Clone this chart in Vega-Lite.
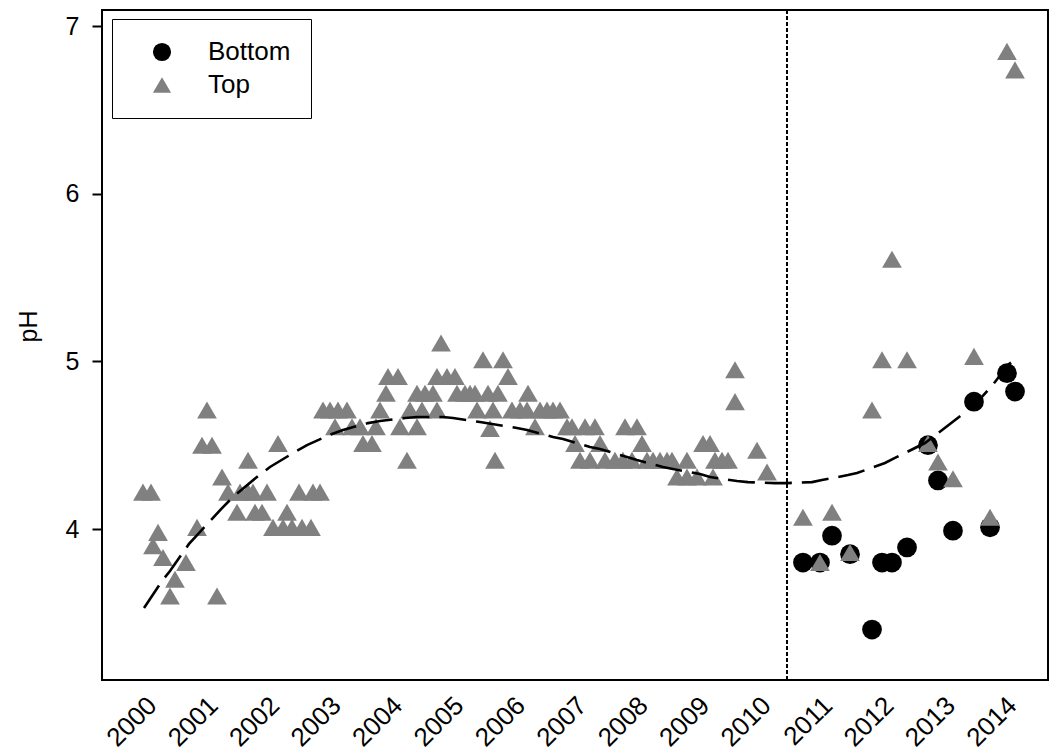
{
  "$schema": "https://vega.github.io/schema/vega-lite/v6.json",
  "width": 946,
  "height": 670,
  "autosize": {"type": "none"},
  "padding": {"left": 102, "top": 10, "right": 3, "bottom": 76},
  "background": "white",
  "config": {
    "font": "Liberation Sans",
    "view": {"stroke": "black", "strokeWidth": 2},
    "axis": {"grid": false, "domain": false, "labelColor": "black", "titleColor": "black", "labelFont": "Liberation Sans", "titleFont": "Liberation Sans"}
  },
  "datasets": {
    "pts": [
      {"t":2010.597,"pH":3.80,"pos":"Bottom"},{"t":2010.874,"pH":3.80,"pos":"Bottom"},{"t":2011.070,"pH":3.96,"pos":"Bottom"},{"t":2011.363,"pH":3.85,"pos":"Bottom"},{"t":2011.884,"pH":3.80,"pos":"Bottom"},{"t":2012.046,"pH":3.80,"pos":"Bottom"},{"t":2012.291,"pH":3.89,"pos":"Bottom"},{"t":2011.721,"pH":3.40,"pos":"Bottom"},{"t":2012.632,"pH":4.50,"pos":"Bottom"},{"t":2012.795,"pH":4.29,"pos":"Bottom"},{"t":2013.039,"pH":3.99,"pos":"Bottom"},{"t":2013.642,"pH":4.01,"pos":"Bottom"},{"t":2013.381,"pH":4.76,"pos":"Bottom"},{"t":2013.918,"pH":4.93,"pos":"Bottom"},{"t":2014.049,"pH":4.82,"pos":"Bottom"},
      {"t":1999.853,"pH":4.22,"pos":"Top"},{"t":1999.984,"pH":4.22,"pos":"Top"},{"t":2000.098,"pH":3.98,"pos":"Top"},{"t":2000.016,"pH":3.90,"pos":"Top"},{"t":2000.179,"pH":3.83,"pos":"Top"},{"t":2000.553,"pH":3.80,"pos":"Top"},{"t":2000.374,"pH":3.70,"pos":"Top"},{"t":2000.293,"pH":3.60,"pos":"Top"},{"t":2001.058,"pH":3.60,"pos":"Top"},{"t":2000.733,"pH":4.01,"pos":"Top"},{"t":2000.895,"pH":4.71,"pos":"Top"},{"t":2000.814,"pH":4.50,"pos":"Top"},{"t":2000.977,"pH":4.50,"pos":"Top"},{"t":2002.051,"pH":4.51,"pos":"Top"},{"t":2001.563,"pH":4.41,"pos":"Top"},{"t":2001.140,"pH":4.31,"pos":"Top"},
      {"t":2001.237,"pH":4.22,"pos":"Top"},{"t":2001.433,"pH":4.22,"pos":"Top"},{"t":2001.563,"pH":4.22,"pos":"Top"},{"t":2001.644,"pH":4.22,"pos":"Top"},{"t":2001.872,"pH":4.22,"pos":"Top"},
      {"t":2001.384,"pH":4.10,"pos":"Top"},{"t":2001.677,"pH":4.10,"pos":"Top"},{"t":2001.791,"pH":4.10,"pos":"Top"},{"t":2002.198,"pH":4.10,"pos":"Top"},
      {"t":2001.970,"pH":4.01,"pos":"Top"},{"t":2002.133,"pH":4.01,"pos":"Top"},{"t":2002.279,"pH":4.01,"pos":"Top"},{"t":2002.442,"pH":4.01,"pos":"Top"},{"t":2002.588,"pH":4.01,"pos":"Top"},
      {"t":2002.393,"pH":4.22,"pos":"Top"},{"t":2002.621,"pH":4.22,"pos":"Top"},{"t":2002.735,"pH":4.22,"pos":"Top"},
      {"t":2004.705,"pH":5.11,"pos":"Top"},
      {"t":2003.842,"pH":4.91,"pos":"Top"},{"t":2004.005,"pH":4.91,"pos":"Top"},{"t":2004.639,"pH":4.91,"pos":"Top"},{"t":2004.802,"pH":4.91,"pos":"Top"},{"t":2004.932,"pH":4.91,"pos":"Top"},
      {"t":2003.809,"pH":4.81,"pos":"Top"},{"t":2004.314,"pH":4.81,"pos":"Top"},{"t":2004.444,"pH":4.81,"pos":"Top"},{"t":2004.574,"pH":4.81,"pos":"Top"},
      {"t":2002.784,"pH":4.71,"pos":"Top"},{"t":2002.898,"pH":4.71,"pos":"Top"},{"t":2003.028,"pH":4.71,"pos":"Top"},{"t":2003.174,"pH":4.71,"pos":"Top"},{"t":2003.712,"pH":4.71,"pos":"Top"},{"t":2004.200,"pH":4.71,"pos":"Top"},{"t":2004.395,"pH":4.71,"pos":"Top"},{"t":2004.639,"pH":4.71,"pos":"Top"},
      {"t":2002.979,"pH":4.61,"pos":"Top"},{"t":2003.256,"pH":4.61,"pos":"Top"},{"t":2003.386,"pH":4.61,"pos":"Top"},{"t":2003.646,"pH":4.61,"pos":"Top"},{"t":2004.037,"pH":4.61,"pos":"Top"},{"t":2004.314,"pH":4.61,"pos":"Top"},
      {"t":2003.435,"pH":4.51,"pos":"Top"},{"t":2003.581,"pH":4.51,"pos":"Top"},
      {"t":2004.151,"pH":4.41,"pos":"Top"},
      {"t":2005.388,"pH":5.01,"pos":"Top"},{"t":2005.714,"pH":5.01,"pos":"Top"},
      {"t":2005.795,"pH":4.91,"pos":"Top"},
      {"t":2004.965,"pH":4.81,"pos":"Top"},{"t":2005.095,"pH":4.81,"pos":"Top"},{"t":2005.177,"pH":4.81,"pos":"Top"},{"t":2005.258,"pH":4.81,"pos":"Top"},{"t":2005.470,"pH":4.81,"pos":"Top"},{"t":2005.632,"pH":4.81,"pos":"Top"},{"t":2006.121,"pH":4.81,"pos":"Top"},
      {"t":2005.291,"pH":4.71,"pos":"Top"},{"t":2005.551,"pH":4.71,"pos":"Top"},{"t":2005.860,"pH":4.71,"pos":"Top"},{"t":2005.991,"pH":4.71,"pos":"Top"},{"t":2006.105,"pH":4.71,"pos":"Top"},{"t":2006.316,"pH":4.71,"pos":"Top"},{"t":2006.430,"pH":4.71,"pos":"Top"},{"t":2006.528,"pH":4.71,"pos":"Top"},{"t":2006.642,"pH":4.71,"pos":"Top"},
      {"t":2005.502,"pH":4.60,"pos":"Top"},{"t":2006.235,"pH":4.61,"pos":"Top"},{"t":2006.756,"pH":4.61,"pos":"Top"},{"t":2006.837,"pH":4.61,"pos":"Top"},{"t":2007.049,"pH":4.61,"pos":"Top"},{"t":2007.211,"pH":4.61,"pos":"Top"},
      {"t":2006.886,"pH":4.51,"pos":"Top"},{"t":2007.293,"pH":4.51,"pos":"Top"},
      {"t":2005.584,"pH":4.41,"pos":"Top"},{"t":2006.967,"pH":4.41,"pos":"Top"},{"t":2007.130,"pH":4.41,"pos":"Top"},{"t":2007.374,"pH":4.41,"pos":"Top"},{"t":2007.537,"pH":4.41,"pos":"Top"},{"t":2007.667,"pH":4.41,"pos":"Top"},{"t":2007.814,"pH":4.41,"pos":"Top"},
      {"t":2009.491,"pH":4.95,"pos":"Top"},{"t":2009.491,"pH":4.76,"pos":"Top"},
      {"t":2007.700,"pH":4.61,"pos":"Top"},{"t":2007.895,"pH":4.61,"pos":"Top"},
      {"t":2007.977,"pH":4.51,"pos":"Top"},{"t":2008.970,"pH":4.51,"pos":"Top"},{"t":2009.084,"pH":4.51,"pos":"Top"},
      {"t":2009.849,"pH":4.47,"pos":"Top"},
      {"t":2008.058,"pH":4.41,"pos":"Top"},{"t":2008.156,"pH":4.41,"pos":"Top"},{"t":2008.270,"pH":4.41,"pos":"Top"},{"t":2008.384,"pH":4.41,"pos":"Top"},{"t":2008.465,"pH":4.41,"pos":"Top"},{"t":2008.709,"pH":4.41,"pos":"Top"},{"t":2009.165,"pH":4.41,"pos":"Top"},{"t":2009.279,"pH":4.41,"pos":"Top"},{"t":2009.377,"pH":4.41,"pos":"Top"},
      {"t":2008.546,"pH":4.31,"pos":"Top"},{"t":2008.709,"pH":4.31,"pos":"Top"},{"t":2008.872,"pH":4.31,"pos":"Top"},{"t":2009.133,"pH":4.31,"pos":"Top"},
      {"t":2010.012,"pH":4.34,"pos":"Top"},
      {"t":2012.046,"pH":5.61,"pos":"Top"},{"t":2011.884,"pH":5.01,"pos":"Top"},{"t":2012.291,"pH":5.01,"pos":"Top"},{"t":2013.381,"pH":5.03,"pos":"Top"},{"t":2011.721,"pH":4.71,"pos":"Top"},{"t":2012.632,"pH":4.51,"pos":"Top"},{"t":2012.795,"pH":4.40,"pos":"Top"},{"t":2013.039,"pH":4.30,"pos":"Top"},{"t":2010.597,"pH":4.07,"pos":"Top"},{"t":2011.070,"pH":4.10,"pos":"Top"},{"t":2010.874,"pH":3.80,"pos":"Top"},{"t":2011.363,"pH":3.86,"pos":"Top"},{"t":2013.642,"pH":4.07,"pos":"Top"},{"t":2013.918,"pH":6.85,"pos":"Top"},{"t":2014.049,"pH":6.74,"pos":"Top"}
    ],
    "fit": [
      {"t":1999.870,"fit":3.529},{"t":2000.163,"fit":3.690},{"t":2000.293,"fit":3.749},{"t":2000.602,"fit":3.911},{"t":2000.749,"fit":3.970},{"t":2001.140,"fit":4.125},{"t":2001.319,"fit":4.191},{"t":2001.726,"fit":4.316},{"t":2001.921,"fit":4.370},{"t":2002.246,"fit":4.442},{"t":2002.523,"fit":4.501},{"t":2002.930,"fit":4.567},{"t":2003.109,"fit":4.591},{"t":2003.516,"fit":4.632},{"t":2003.712,"fit":4.644},{"t":2004.119,"fit":4.662},{"t":2004.314,"fit":4.668},{"t":2004.737,"fit":4.668},{"t":2004.900,"fit":4.662},{"t":2005.339,"fit":4.638},{"t":2005.942,"fit":4.603},{"t":2006.105,"fit":4.591},{"t":2006.528,"fit":4.549},{"t":2006.691,"fit":4.537},{"t":2007.130,"fit":4.489},{"t":2007.293,"fit":4.477},{"t":2007.732,"fit":4.430},{"t":2007.895,"fit":4.412},{"t":2008.318,"fit":4.370},{"t":2008.481,"fit":4.358},{"t":2008.921,"fit":4.328},{"t":2009.084,"fit":4.310},{"t":2009.523,"fit":4.286},{"t":2009.702,"fit":4.280},{"t":2010.142,"fit":4.274},{"t":2010.337,"fit":4.274},{"t":2010.744,"fit":4.280},{"t":2010.907,"fit":4.292},{"t":2011.330,"fit":4.322},{"t":2011.477,"fit":4.334},{"t":2011.932,"fit":4.394},{"t":2012.095,"fit":4.424},{"t":2012.583,"fit":4.513},{"t":2012.714,"fit":4.549},{"t":2013.137,"fit":4.668},{"t":2013.511,"fit":4.788},{"t":2013.723,"fit":4.877},{"t":2013.935,"fit":4.979},{"t":2014.065,"fit":5.020}
    ],
    "brk": [{"t": 2010.337}]
  },
  "layer": [
    {
      "data": {"name": "pts"},
      "mark": {"type": "point", "filled": true, "opacity": 1, "size": 390, "strokeWidth": 0},
      "encoding": {
        "x": {"field": "t", "type": "quantitative", "scale": {"domain": [1999.186, 2014.586], "nice": false, "zero": false},
          "axis": {"title": null, "values": [2000,2001,2002,2003,2004,2005,2006,2007,2008,2009,2010,2011,2012,2013,2014], "format": "d", "ticks": false, "labelAngle": -45, "labelAlign": "right", "labelBaseline": "middle", "labelPadding": 21, "labelFontSize": 26, "labelOverlap": false, "labelFlush": false, "labelBound": false}},
        "y": {"field": "pH", "type": "quantitative", "scale": {"domain": [3.099, 7.097], "nice": false, "zero": false},
          "axis": {"title": "pH", "values": [4,5,6,7], "format": "d", "tickSize": 10, "tickWidth": 2, "tickColor": "black", "labelPadding": 13, "labelFontSize": 25, "titleFontSize": 25, "titleFontWeight": "normal", "titlePadding": 24, "titleY": 316}},
        "shape": {"field": "pos", "type": "nominal", "scale": {"domain": ["Bottom", "Top"], "range": ["circle", "triangle-up"]},
          "legend": {"title": null, "orient": "none", "legendX": 10, "legendY": 9, "strokeColor": "black", "padding": 20, "symbolOffset": 17, "labelOffset": 33, "rowPadding": 7, "labelFontSize": 26, "symbolSize": 330, "symbolStrokeWidth": 0, "labelColor": "black", "encode": {"legend": {"update": {"strokeWidth": {"value": 2}}}}}},
        "color": {"field": "pos", "type": "nominal", "scale": {"domain": ["Bottom", "Top"], "range": ["#000000", "#808080"]},
          "legend": {"title": null, "orient": "none", "legendX": 10, "legendY": 9, "strokeColor": "black", "padding": 20, "symbolOffset": 17, "labelOffset": 33, "rowPadding": 7, "labelFontSize": 26, "symbolSize": 330, "symbolStrokeWidth": 0, "labelColor": "black", "encode": {"legend": {"update": {"strokeWidth": {"value": 2}}}}}}
      }
    },
    {
      "data": {"name": "fit"},
      "mark": {"type": "line", "color": "black", "strokeWidth": 2.6, "strokeDash": [27, 10]},
      "encoding": {
        "x": {"field": "t", "type": "quantitative"},
        "y": {"field": "fit", "type": "quantitative"}
      }
    },
    {
      "data": {"name": "brk"},
      "mark": {"type": "rule", "color": "black", "strokeWidth": 2, "strokeDash": [4, 2]},
      "encoding": {
        "x": {"field": "t", "type": "quantitative"}
      }
    }
  ]
}
